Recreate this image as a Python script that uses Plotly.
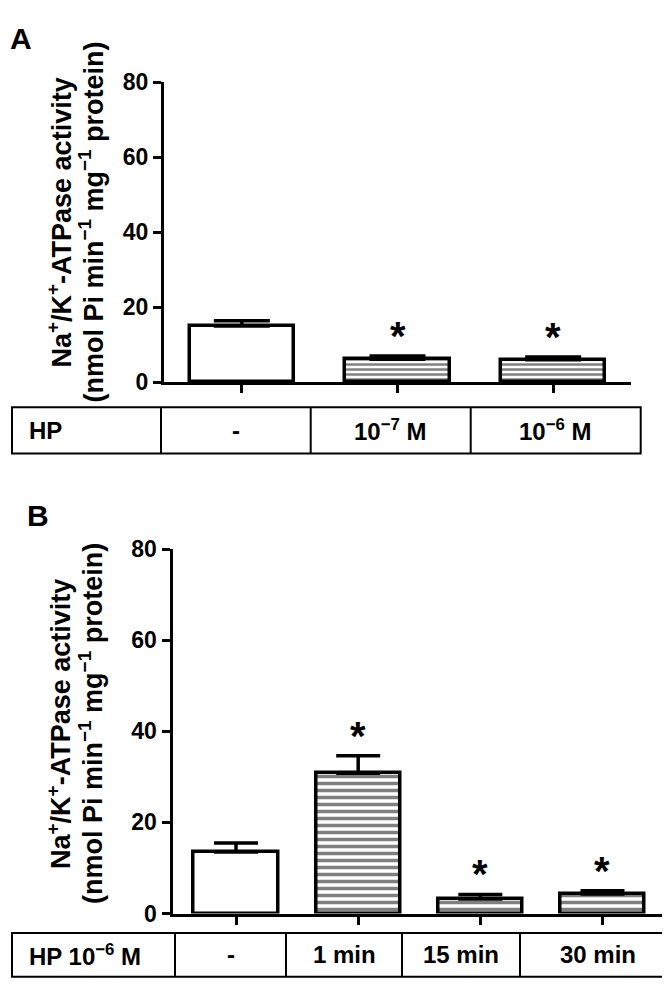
import plotly.graph_objects as go

# ---------------- data ----------------
a_row_header = "HP"
a_cats = ["-", "10<sup>−7</sup> M", "10<sup>−6</sup> M"]
a_vals = [15.0, 6.1, 6.0]
a_err = [1.4, 0.9, 0.7]
a_sig = ["", "*", "*"]
a_hatched = [False, True, True]

b_row_header = "HP 10<sup>−6</sup> M"
b_cats = ["-", "1 min", "15 min", "30 min"]
b_vals = [13.5, 30.8, 3.2, 4.3]
b_err = [2.0, 3.8, 1.0, 0.7]
b_sig = ["", "*", "*", "*"]
b_hatched = [False, True, True, True]

y_ticks = [0, 20, 40, 60, 80]
y_title_1 = "Na<sup>+</sup>/K<sup>+</sup>-ATPase activity"
y_title_2 = "(nmol Pi min<sup>−1</sup> mg<sup>−1</sup> protein)"

# ---------------- layout helpers ----------------
W, H = 670, 986
FONT = "Liberation Sans, Arial, DejaVu Sans, sans-serif"


def px(x):
    return x / W


def py(y):
    return 1 - y / H


def bold(s):
    return "<b>" + s + "</b>"


fig = go.Figure()


def add_bars(vals, err, hatched, xaxis, yaxis, width, psize, cap):
    xs = list(range(len(vals)))
    fig.add_trace(go.Bar(
        x=xs, y=vals, width=width,
        xaxis=xaxis, yaxis=yaxis,
        marker=dict(
            color="white",
            line=dict(color="black", width=3.5),
            pattern=dict(
                shape=["-" if h else "" for h in hatched],
                fgcolor="black", bgcolor="white",
                size=psize, solidity=0.5,
            ),
        ),
        error_y=dict(type="data", symmetric=False, array=err,
                     arrayminus=[0] * len(err), color="black",
                     thickness=3.5, width=cap),
        showlegend=False, hoverinfo="skip",
    ))


add_bars(a_vals, a_err, a_hatched, "x", "y", 0.67, 5, 28)
add_bars(b_vals, b_err, b_hatched, "x2", "y2", 0.69, 7, 22)

axis_common = dict(showline=True, linecolor="black", linewidth=3,
                   ticks="outside", ticklen=8, tickwidth=3, tickcolor="black",
                   showgrid=False, zeroline=False)
tickfont = dict(family=FONT, size=23, color="black", weight="bold")

fig.update_layout(
    width=W, height=H,
    margin=dict(l=0, r=0, t=0, b=0),
    paper_bgcolor="white", plot_bgcolor="white",
    bargap=0,
    xaxis=dict(domain=[px(156), px(623)], range=[-0.5, 2.5],
               tickvals=list(range(len(a_vals))), showticklabels=False,
               anchor="y", **axis_common),
    yaxis=dict(domain=[py(371), py(62.7)], range=[0, 80], tickvals=y_ticks,
               tickfont=tickfont, anchor="x", **axis_common),
    xaxis2=dict(domain=[px(164.5), px(669)], range=[-0.52, 3.61],
                tickvals=list(range(len(b_vals))), showticklabels=False,
                anchor="y2", **axis_common),
    yaxis2=dict(domain=[py(916.7), py(542.3)], range=[0, 80], tickvals=y_ticks,
                tickfont=tickfont, anchor="x2", **axis_common),
)

annotations = []
shapes = []

# significance asterisks
for xr, yr, vals, err, sig in [("x", "y", a_vals, a_err, a_sig),
                               ("x2", "y2", b_vals, b_err, b_sig)]:
    for i, (v, e, s) in enumerate(zip(vals, err, sig)):
        if s:
            annotations.append(dict(
                x=i, y=v + e, xref=xr, yref=yr, text=bold(s), showarrow=False,
                xanchor="center", yanchor="bottom", yshift=-4,
                font=dict(family=FONT, size=40, color="black")))

# panel letters
for letter, cx, cy, size in [("A", 13, 18, 30), ("B", 30, 508, 30)]:
    annotations.append(dict(x=px(cx), y=py(cy), xref="paper", yref="paper",
                            text=bold(letter), showarrow=False, xanchor="center",
                            yanchor="middle",
                            font=dict(family=FONT, size=size, color="black")))

# y-axis titles
for cy in [207, 722]:
    for text, cx in [(y_title_1, 51), (y_title_2, 83)]:
        annotations.append(dict(x=px(cx), y=py(cy), xref="paper", yref="paper",
                                text=bold(text), showarrow=False, textangle=-90,
                                xanchor="center", yanchor="middle",
                                font=dict(family=FONT, size=27, color="black")))

# tables
tables = [
    dict(top=396.7, bottom=444.3, left=4, right=632.7,
         dividers=[153, 302.7, 462.7], header=a_row_header, cats=a_cats),
    dict(top=936.7, bottom=981.7, left=4, right=667,
         dividers=[167, 278, 394, 512], header=b_row_header, cats=b_cats),
]
tfont = dict(family=FONT, size=24, color="black")
for t in tables:
    shapes.append(dict(type="rect", xref="paper", yref="paper",
                       x0=px(t["left"]), x1=px(t["right"]),
                       y0=py(t["bottom"]), y1=py(t["top"]),
                       line=dict(color="black", width=2)))
    for d in t["dividers"]:
        shapes.append(dict(type="line", xref="paper", yref="paper",
                           x0=px(d), x1=px(d), y0=py(t["bottom"]), y1=py(t["top"]),
                           line=dict(color="black", width=2)))
    cy = (t["top"] + t["bottom"]) / 2
    annotations.append(dict(x=px(t["left"] + 15), y=py(cy), xref="paper",
                            yref="paper", text=bold(t["header"]), showarrow=False,
                            xanchor="left", yanchor="middle", font=tfont))
    edges = t["dividers"] + [t["right"]]
    for c, x0, x1 in zip(t["cats"], edges[:-1], edges[1:]):
        annotations.append(dict(x=px((x0 + x1) / 2), y=py(cy), xref="paper",
                                yref="paper", text=bold(c), showarrow=False,
                                xanchor="center", yanchor="middle", font=tfont))

fig.update_layout(annotations=annotations, shapes=shapes)
fig.write_html("out.html")
